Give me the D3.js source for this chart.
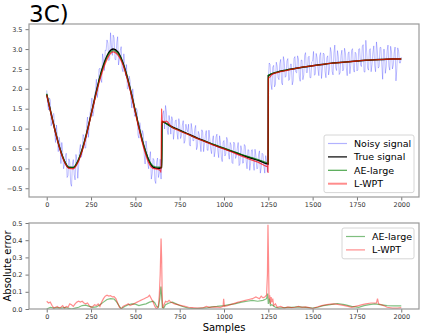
<!DOCTYPE html>
<html>
<head>
<meta charset="utf-8">
<script src="https://cdn.jsdelivr.net/npm/d3@7"></script>
<style>
  body { margin: 0; background: #fff; }
  svg { font-family: "DejaVu Sans", sans-serif; }
</style>
</head>
<body>
<div id="chart"></div>
<script>
  const W = 423, H = 334;

  // true signal, read at coarse sample positions
  const trueX = [0,25,50,75,100,125,150,175,200,225,250,275,300,325,350,375,400,425,450,475,500,525,550,575,600,625,649,
    650,700,750,800,850,900,950,1000,1050,1100,1150,1200,1249,
    1250,1300,1350,1400,1450,1500,1550,1600,1650,1700,1750,1800,1850,1900,1950,2000];
  const trueY = [1.86,1.37,0.90,0.49,0.18,0.02,0.02,0.17,0.47,0.88,1.35,1.84,2.30,2.66,2.91,3.00,2.93,2.71,2.36,1.92,1.43,0.95,0.53,0.21,0.03,0.00,0.02,
    1.17,1.06,0.96,0.86,0.76,0.67,0.58,0.50,0.42,0.34,0.26,0.19,0.11,
    2.33,2.42,2.47,2.51,2.55,2.58,2.61,2.64,2.66,2.68,2.70,2.72,2.73,2.74,2.75,2.75];

  const aeY = [1.88,1.37,0.91,0.49,0.19,0.03,0.02,0.18,0.48,0.88,1.35,1.83,2.29,2.64,2.88,2.96,2.90,2.70,2.36,1.93,1.44,0.96,0.54,0.22,0.06,0.03,0.03,
    1.17,1.05,0.95,0.85,0.75,0.67,0.59,0.51,0.43,0.35,0.28,0.21,0.14,
    2.34,2.42,2.47,2.51,2.55,2.58,2.61,2.64,2.66,2.68,2.70,2.72,2.73,2.74,2.75,2.75];

  const wptX = [0,25,50,75,100,125,150,175,200,225,250,275,300,325,350,375,400,425,450,475,500,525,550,575,600,625,
    640,645,648,650,652,660,675,700,750,800,850,900,950,1000,1050,1100,1150,1200,1240,1246,1248,
    1250,1252,1260,1270,1300,1350,1400,1450,1500,1550,1600,1650,1700,1750,1800,1850,1900,1950,2000];
  const wptY = [1.84,1.36,0.89,0.47,0.16,0.00,-0.01,0.14,0.44,0.85,1.33,1.80,2.23,2.58,2.83,2.93,2.86,2.66,2.32,1.89,1.40,0.91,0.47,0.14,0.00,-0.02,
    -0.05,-0.10,1.50,1.10,1.20,1.16,1.19,1.06,0.94,0.85,0.75,0.66,0.57,0.49,0.40,0.31,0.22,0.14,0.05,0.04,-0.10,
    2.20,2.28,2.30,2.36,2.41,2.46,2.51,2.55,2.58,2.61,2.64,2.66,2.68,2.70,2.72,2.73,2.74,2.75,2.75];

  // noisy signal, one value every 5 samples (0..2000)
  const noisyStep = 5;
  const noisyY = [
    1.96,1.62,1.47,1.77,1.72,1.07,1.15,1.36,1.38,0.89,
    0.65,1.09,0.77,0.42,0.78,0.61,0.12,0.65,0.41,-0.01,
    0.10,0.29,0.38,-0.23,-0.18,0.24,0.16,-0.38,-0.45,0.11,
    0.22,-0.16,-0.29,0.35,0.21,-0.25,0.04,0.46,0.60,0.28,
    0.37,0.85,0.80,0.52,0.51,1.08,1.29,0.78,1.11,1.40,
    1.55,1.77,1.31,1.43,1.85,1.94,2.24,1.78,1.96,2.49,
    2.52,2.26,2.16,2.88,2.72,2.46,2.97,2.96,3.23,3.15,
    2.71,2.76,3.41,3.08,2.84,3.35,3.28,2.74,2.73,3.16,
    3.31,2.60,2.76,2.96,3.06,2.51,2.43,2.88,2.60,2.32,
    2.61,2.00,2.01,2.32,2.21,1.77,1.52,2.00,1.78,1.31,
    1.35,1.51,1.46,0.84,0.76,1.15,0.98,0.68,0.95,0.86,
    0.33,0.11,0.69,0.48,0.12,-0.01,0.26,0.42,-0.27,-0.13,
    0.25,0.21,-0.30,-0.38,0.16,0.26,-0.23,-0.12,0.23,-0.27,
    1.07,1.36,1.45,0.99,1.58,1.42,0.96,0.85,1.33,1.19,
    0.86,1.30,1.22,0.73,0.94,1.19,1.22,0.89,0.73,1.25,
    1.11,0.75,0.82,1.08,1.20,0.63,0.70,1.11,0.98,0.92,
    1.11,0.60,0.56,1.13,0.97,0.69,0.70,0.99,1.08,0.47,
    0.54,0.93,0.86,0.65,0.42,0.97,0.91,0.42,0.64,0.83,
    0.95,0.46,0.45,0.96,0.73,0.48,0.37,0.71,0.82,0.29,
    0.43,0.79,0.86,0.44,0.27,0.82,0.65,0.28,0.17,0.66,
    0.70,0.31,0.36,0.78,0.72,0.36,0.23,0.65,0.59,0.15,
    0.12,0.66,0.62,0.25,0.31,0.50,0.65,0.07,0.11,0.57,
    0.46,0.13,0.14,0.60,0.56,0.18,-0.01,0.47,0.46,-0.05,
    0.11,0.46,0.47,0.14,-0.05,0.48,0.32,-0.01,0.00,0.35,
    0.44,-0.12,0.02,0.38,0.35,0.06,-0.12,0.32,0.19,-0.10,
    2.23,2.65,2.61,2.12,1.98,2.54,2.59,2.05,2.11,2.67,
    2.57,2.28,2.23,2.64,2.74,2.15,2.10,2.81,2.68,2.29,
    2.32,2.70,2.76,2.21,2.24,2.62,2.62,2.10,2.20,2.76,
    2.81,2.42,2.40,2.83,2.75,2.29,2.19,2.72,2.72,2.23,
    2.35,2.84,2.91,2.41,2.41,2.79,2.82,2.28,2.28,2.68,
    2.70,2.94,2.34,2.37,2.89,2.78,2.50,2.33,2.83,2.91,
    2.26,2.50,2.90,2.87,2.44,2.28,2.78,2.83,2.35,2.49,
    3.04,2.92,2.44,2.35,2.90,3.10,2.53,2.46,2.96,2.81,
    2.36,2.41,2.84,2.97,2.45,2.49,3.02,2.90,2.53,2.33,
    2.88,2.93,2.38,2.59,2.97,3.01,2.51,2.42,2.92,2.88,
    2.45,2.48,3.00,3.01,2.61,2.56,3.06,3.11,2.43,2.42,
    3.22,2.92,2.52,2.47,2.97,3.01,2.43,2.61,2.91,3.08,
    2.58,2.43,3.18,2.96,2.52,2.56,3.04,3.04,2.62,2.24,
    2.99,2.99,2.39,2.55,2.95,3.10,2.57,2.47,3.07,2.93,
    2.50,2.60,2.90,3.05,2.20,2.50,3.03,2.95,2.65,2.65,
    2.80];

  // absolute errors
  const errWptX = [0,10,20,30,40,50,60,70,80,90,100,110,120,130,140,150,160,170,180,190,200,210,220,230,240,250,260,270,280,290,300,310,320,330,340,350,360,370,380,390,400,410,420,430,440,450,460,470,480,490,500,510,520,530,540,550,560,570,580,590,600,610,620,630,635,640,645,648,652,655,660,670,680,690,700,710,720,740,760,780,800,820,850,880,900,920,950,980,995,998,1002,1020,1050,1080,1100,1120,1140,1160,1180,1200,1210,1220,1230,1240,1245,1248,1251,1254,1258,1262,1266,1270,1275,1280,1290,1300,1320,1340,1360,1380,1400,1420,1440,1460,1480,1500,1520,1550,1580,1600,1620,1650,1680,1700,1720,1740,1760,1780,1800,1830,1860,1866,1872,1900,1920,1950,1980,2000];
  const errWpt = [0.045,0.035,0.04,0.02,0.005,0.01,0.015,0.005,0.01,0.02,0.005,0.015,0.01,0.03,0.025,0.015,0.03,0.04,0.045,0.04,0.045,0.035,0.03,0.035,0.02,0.01,0.015,0.025,0.02,0.03,0.015,0.04,0.06,0.075,0.08,0.075,0.078,0.07,0.072,0.06,0.035,0.01,0.0,0.015,0.02,0.025,0.03,0.02,0.025,0.03,0.035,0.04,0.045,0.05,0.055,0.06,0.065,0.07,0.08,0.06,0.04,0.015,0.0,0.02,0.08,0.2,0.41,0.3,0.05,0.005,0.02,0.045,0.04,0.05,0.04,0.035,0.03,0.025,0.02,0.015,0.01,0.008,0.005,0.006,0.015,0.01,0.012,0.01,0.015,0.06,0.015,0.02,0.03,0.04,0.045,0.05,0.055,0.06,0.07,0.06,0.075,0.065,0.07,0.08,0.2,0.49,0.3,0.06,0.08,0.03,0.07,0.04,0.06,0.02,0.03,0.01,0.015,0.005,0.012,0.008,0.01,0.015,0.01,0.012,0.008,0.002,0.01,0.02,0.025,0.028,0.03,0.025,0.02,0.015,0.01,0.015,0.02,0.025,0.03,0.035,0.035,0.06,0.03,0.02,0.01,0.005,0.005,0.008];

  const errAeX = [0,20,40,60,80,100,120,140,160,180,200,220,240,260,280,300,320,340,360,380,395,410,420,440,460,480,500,520,540,560,580,600,610,620,630,638,644,648,652,660,670,690,710,730,750,780,800,830,860,900,930,960,1000,1030,1060,1100,1130,1160,1190,1220,1240,1246,1250,1256,1262,1270,1290,1310,1340,1380,1420,1460,1500,1530,1560,1600,1640,1680,1720,1760,1790,1820,1850,1880,1920,1960,2000];
  const errAe = [0.0,0.01,0.005,0.008,0.005,0.008,0.005,0.0,0.005,0.01,0.02,0.022,0.015,0.01,0.012,0.025,0.04,0.055,0.06,0.058,0.04,0.015,0.002,0.015,0.025,0.03,0.028,0.02,0.025,0.03,0.04,0.045,0.035,0.015,0.01,0.06,0.13,0.08,0.01,0.005,0.025,0.035,0.04,0.03,0.02,0.01,0.005,0.002,0.004,0.006,0.012,0.015,0.02,0.025,0.03,0.04,0.045,0.05,0.045,0.05,0.06,0.09,0.03,0.06,0.02,0.025,0.01,0.005,0.008,0.01,0.012,0.01,0.005,0.01,0.02,0.025,0.032,0.025,0.015,0.01,0.02,0.025,0.03,0.025,0.02,0.018,0.018];

  const xTicks = [0,250,500,750,1000,1250,1500,1750,2000];
  const yTicksTop = [-0.5,0,0.5,1,1.5,2,2.5,3,3.5];
  const yTicksBot = [0,0.1,0.2,0.3,0.4,0.5];

  const left = 29, right = 419;
  const top1 = 24, bot1 = 197;
  const top2 = 223, bot2 = 309;

  const svg = d3.select("#chart").append("svg")
    .attr("width", W).attr("height", H);

  const x = d3.scaleLinear().domain([-100, 2100]).range([left, right]);
  const y1 = d3.scaleLinear().domain([-0.72, 3.63]).range([bot1, top1]);
  const y2 = d3.scaleLinear().domain([0, 0.5]).range([bot2, top2]);

  svg.append("defs").append("clipPath").attr("id", "c1")
    .append("rect").attr("x", left).attr("y", top1).attr("width", right - left).attr("height", bot1 - top1);
  svg.select("defs").append("clipPath").attr("id", "c2")
    .append("rect").attr("x", left).attr("y", top2).attr("width", right - left).attr("height", bot2 - top2);

  function drawAxes(yScale, ticks, fmt, yTop, yBot) {
    const gx = svg.append("g").attr("transform", `translate(0,${yBot})`)
      .call(d3.axisBottom(x).tickValues(xTicks).tickSize(3.5).tickPadding(2).tickFormat(d3.format("d")));
    const gy = svg.append("g").attr("transform", `translate(${left},0)`)
      .call(d3.axisLeft(yScale).tickValues(ticks).tickSize(3.5).tickPadding(3).tickFormat(fmt));
    [gx, gy].forEach(g => {
      g.select(".domain").remove();
      g.selectAll("line").attr("stroke", "#555").attr("stroke-width", 0.8);
      g.selectAll("text").attr("fill", "#333").style("font-size", "6.5px").style("font-family", "DejaVu Sans");
    });
    svg.append("rect")
      .attr("x", left).attr("y", yTop).attr("width", right - left).attr("height", yBot - yTop)
      .attr("fill", "none").attr("stroke", "#999").attr("stroke-width", 1.2);
  }

  const curve = d3.curveMonotoneX;

  // top panel
  const p1 = svg.append("g").attr("clip-path", "url(#c1)");
  p1.append("path")
    .attr("d", d3.line().x((d, i) => x(i * noisyStep)).y(d => y1(d))(noisyY))
    .attr("fill", "none").attr("stroke", "#0000ff").attr("stroke-opacity", 0.25).attr("stroke-width", 1);
  p1.append("path")
    .attr("d", d3.line().curve(curve).x((d, i) => x(trueX[i])).y(d => y1(d))(trueY))
    .attr("fill", "none").attr("stroke", "#000").attr("stroke-width", 1.5);
  p1.append("path")
    .attr("d", d3.line().curve(curve).x((d, i) => x(trueX[i])).y(d => y1(d))(aeY))
    .attr("fill", "none").attr("stroke", "#008000").attr("stroke-opacity", 0.7).attr("stroke-width", 1.2);
  p1.append("path")
    .attr("d", d3.line().curve(curve).x((d, i) => x(wptX[i])).y(d => y1(d))(wptY))
    .attr("fill", "none").attr("stroke", "#ff0000").attr("stroke-opacity", 0.7).attr("stroke-width", 1.3);

  drawAxes(y1, yTicksTop, d3.format(".1f"), top1, bot1);

  // bottom panel
  const p2 = svg.append("g").attr("clip-path", "url(#c2)");
  p2.append("path")
    .attr("d", d3.line().x((d, i) => x(errAeX[i])).y(d => y2(d))(errAe))
    .attr("fill", "none").attr("stroke", "#008000").attr("stroke-opacity", 0.5).attr("stroke-width", 1.2);
  p2.append("path")
    .attr("d", d3.line().x((d, i) => x(errWptX[i])).y(d => y2(d))(errWpt))
    .attr("fill", "none").attr("stroke", "#ff0000").attr("stroke-opacity", 0.45).attr("stroke-width", 1.2);

  drawAxes(y2, yTicksBot, d3.format(".1f"), top2, bot2);

  // title and labels
  svg.append("text").attr("x", 29).attr("y", 22).text("3C)")
    .style("font-size", "23px").attr("fill", "#000");
  svg.append("text").attr("x", (left + right) / 2).attr("y", 331).attr("text-anchor", "middle")
    .text("Samples").style("font-size", "10px");
  svg.append("text").attr("transform", `translate(11,${(top2 + bot2) / 2}) rotate(-90)`)
    .attr("text-anchor", "middle").text("Absolute error").style("font-size", "10px");

  // legends
  function legend(x0, y0, w, items) {
    const g = svg.append("g");
    g.append("rect").attr("x", x0).attr("y", y0).attr("width", w).attr("height", items.length * 13.4 + 4)
      .attr("rx", 2).attr("fill", "#fff").attr("fill-opacity", 0.8).attr("stroke", "#ccc").attr("stroke-width", 0.8);
    items.forEach((it, i) => {
      const cy = y0 + 8.5 + i * 13.4;
      g.append("line").attr("x1", x0 + 4).attr("x2", x0 + 23).attr("y1", cy).attr("y2", cy)
        .attr("stroke", it.color).attr("stroke-opacity", it.op).attr("stroke-width", it.w);
      g.append("text").attr("x", x0 + 30).attr("y", cy + 3.4).text(it.name)
        .style("font-size", "9.5px").attr("fill", "#000");
    });
  }
  legend(324, 135, 90, [
    { name: "Noisy signal", color: "#0000ff", op: 0.3, w: 1.2 },
    { name: "True signal", color: "#000", op: 1, w: 1.2 },
    { name: "AE-large", color: "#008000", op: 0.7, w: 1.2 },
    { name: "L-WPT", color: "#ff0000", op: 0.45, w: 2 }
  ]);
  legend(342, 228, 72, [
    { name: "AE-large", color: "#008000", op: 0.5, w: 1.2 },
    { name: "L-WPT", color: "#ff0000", op: 0.45, w: 1.2 }
  ]);
</script>
</body>
</html>
